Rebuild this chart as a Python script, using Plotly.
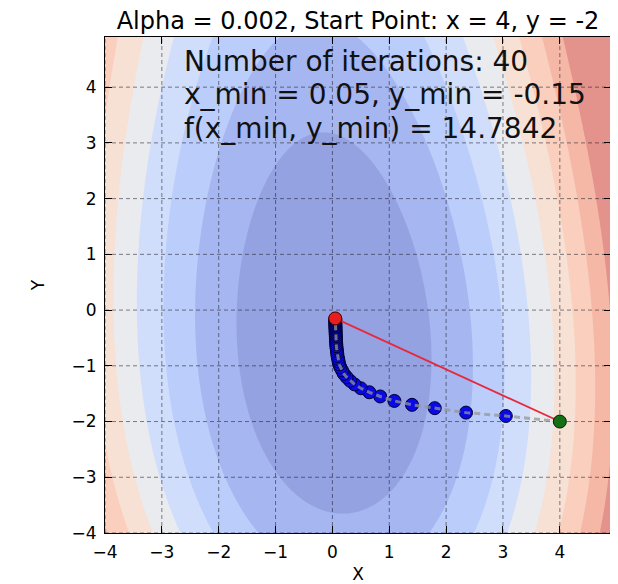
import numpy as np
import plotly.graph_objects as go

# ---------------- data ----------------
title_text = "Alpha = 0.002, Start Point: x = 4, y = -2"
info_lines = ["Number of iterations: 40",
              "x_min = 0.05, y_min = -0.15",
              "f(x_min, y_min) = 14.7842"]
info_y = [4.46, 3.86, 3.26]
info_x = -2.65

x_ticks = [-4, -3, -2, -1, 0, 1, 2, 3, 4]
y_ticks = [-4, -3, -2, -1, 0, 1, 2, 3, 4]
x_range = [-4.0, 4.9]
y_range = [-4.0, 4.9]

# gradient-descent path (start + 40 iterations)
path_x = [4.00, 3.05, 2.35, 1.80, 1.40, 1.09, 0.84, 0.65, 0.50, 0.39, 0.31,
          0.25, 0.20, 0.17, 0.14, 0.12, 0.11, 0.10, 0.09, 0.085, 0.08,
          0.075, 0.07, 0.068, 0.065, 0.063, 0.061, 0.06, 0.058, 0.057, 0.056,
          0.055, 0.054, 0.053, 0.053, 0.052, 0.052, 0.051, 0.051, 0.050, 0.050]
path_y = [-2.00, -1.90, -1.84, -1.76, -1.70, -1.63, -1.55, -1.475, -1.403, -1.334, -1.268,
          -1.204, -1.143, -1.084, -1.028, -0.974, -0.922, -0.872, -0.824, -0.778, -0.734,
          -0.692, -0.651, -0.612, -0.575, -0.539, -0.504, -0.471, -0.439, -0.408, -0.379,
          -0.351, -0.324, -0.298, -0.273, -0.249, -0.226, -0.204, -0.183, -0.163, -0.150]

# surface shown as filled contours (coefficients)
coef_xx = 60.0
coef_tilt = 0.05
coef_y1, coef_y2, coef_y3 = 16.7, 14.2, -0.852
coef_c = 20.0
level_start, level_end, level_step = 190, 1450, 180

band_colors = ["#94a2e2", "#a6b6f0", "#bacdfb", "#d0defc", "#eaebef",
               "#f7e0d4", "#facfbe", "#f5b8a7", "#e3928c"]

# ---------------- figure ----------------
grid_x = np.arange(-4.0, 4.9001, 0.05)
grid_y = np.arange(-4.0, 4.9001, 0.05)
GX, GY = np.meshgrid(grid_x, grid_y)
Z = (coef_xx * (GX + coef_tilt * GY) ** 2 + coef_y1 * GY + coef_y2 * GY ** 2
     + coef_y3 * GY ** 3 + coef_c)

nb = len(band_colors) - 1
colorscale = []
for k, c in enumerate(band_colors):
    lo = max(0.0, (k - 0.5) / nb)
    hi = min(1.0, (k + 0.5) / nb)
    colorscale.append([lo, c])
    colorscale.append([hi, c])

fig = go.Figure()
fig.add_trace(go.Contour(
    x=grid_x, y=grid_y, z=Z, autocontour=False,
    contours=dict(start=level_start, end=level_end, size=level_step,
                  coloring="fill", showlines=False),
    colorscale=colorscale, showscale=False, line=dict(width=0),
    hoverinfo="skip"))

# grid lines on top of the filled contours
gx, gy = [], []
for v in x_ticks:
    gx += [v, v, None]
    gy += [y_range[0], y_range[1], None]
for v in y_ticks:
    gx += [x_range[0], x_range[1], None]
    gy += [v, v, None]
fig.add_trace(go.Scatter(x=gx, y=gy, mode="lines",
                         line=dict(color="rgba(30,30,40,0.55)", width=1, dash="4px,3px"),
                         hoverinfo="skip"))

# path markers
fig.add_trace(go.Scatter(x=path_x[1:-1], y=path_y[1:-1], mode="markers",
                         marker=dict(size=13, color="#0a0ae6",
                                     line=dict(color="#000030", width=1)),
                         hoverinfo="skip"))
# dashed grey path line
fig.add_trace(go.Scatter(x=path_x, y=path_y, mode="lines",
                         line=dict(color="rgba(150,150,150,0.75)", width=3, dash="6px,4px"),
                         hoverinfo="skip"))
# red line start -> end
fig.add_trace(go.Scatter(x=[path_x[-1], path_x[0]], y=[path_y[-1], path_y[0]], mode="lines",
                         line=dict(color="#e8283c", width=1.8), hoverinfo="skip"))
# start marker (green) and end marker (red)
fig.add_trace(go.Scatter(x=[path_x[0]], y=[path_y[0]], mode="markers",
                         marker=dict(size=13, color="#157015", line=dict(color="#002000", width=1)),
                         hoverinfo="skip"))
fig.add_trace(go.Scatter(x=[path_x[-1]], y=[path_y[-1]], mode="markers",
                         marker=dict(size=13, color="#e81e1e", line=dict(color="#400000", width=1)),
                         hoverinfo="skip"))

for txt, yv in zip(info_lines, info_y):
    fig.add_annotation(x=info_x, y=yv, xref="x", yref="y", text=txt, showarrow=False,
                       xanchor="left", yanchor="middle",
                       font=dict(family="DejaVu Sans", size=28, color="#111111"))

axis_common = dict(ticks="inside", ticklen=7, tickwidth=1, tickcolor="black",
                   mirror="ticks", showline=True, linecolor="black", linewidth=1,
                   showgrid=False, zeroline=False,
                   tickfont=dict(family="DejaVu Sans", size=17, color="black"))
fig.update_xaxes(range=x_range, tickvals=x_ticks, ticklabelstandoff=4,
                 title=dict(text="X", font=dict(family="DejaVu Sans", size=17, color="black"),
                            standoff=9),
                 **axis_common)
fig.update_yaxes(range=y_range, tickvals=y_ticks, ticklabelstandoff=4,
                 title=dict(text="Y", font=dict(family="DejaVu Sans", size=17, color="black"),
                            standoff=22),
                 **axis_common)

# the page body adds an 8 px offset, so the figure is 8 px smaller on each side
fig.update_layout(
    width=610, height=576,
    margin=dict(l=97, r=7, t=29, b=51, autoexpand=False),
    paper_bgcolor="white", plot_bgcolor="white", showlegend=False,
    title=dict(text=title_text, x=350 / 610, xanchor="center", xref="container",
               y=1 - 13 / 576, yanchor="middle", yref="container",
               font=dict(family="DejaVu Sans", size=24, color="black")),
)

fig.write_html("out.html")
